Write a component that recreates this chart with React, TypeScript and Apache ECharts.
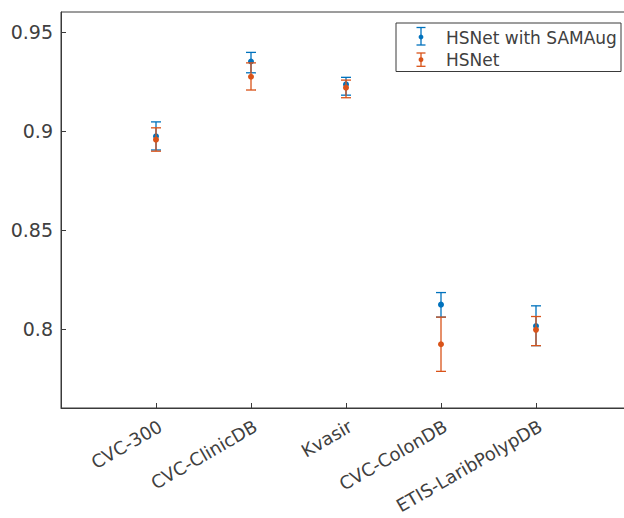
import React, { useEffect, useRef } from "react";
import * as echarts from "echarts";

const categories = ["CVC-300", "CVC-ClinicDB", "Kvasir", "CVC-ColonDB", "ETIS-LaribPolypDB"];
const samaugMean = [0.8972, 0.935, 0.9234, 0.8122, 0.8014];
const samaugLow = [0.8903, 0.9293, 0.918, 0.8059, 0.7915];
const samaugHigh = [0.9045, 0.9396, 0.927, 0.8183, 0.8116];
const hsnetMean = [0.8955, 0.9273, 0.9218, 0.7922, 0.7995];
const hsnetLow = [0.8897, 0.9206, 0.9167, 0.7785, 0.7915];
const hsnetHigh = [0.9015, 0.9343, 0.9256, 0.8059, 0.8062];
const yTicks = [0.8, 0.85, 0.9, 0.95];
const seriesNames = ["HSNet with SAMAug", "HSNet"];

const BLUE = "#0072BD";
const ORANGE = "#D95319";
const AXIS = "#3a3a3a";
const TEXT = "#404040";
const FONT = "DejaVu Sans";

function makeRender(color: string) {
  return (params: any, api: any) => {
    const x = api.value(0);
    const pm = api.coord([x, api.value(1)]);
    const pl = api.coord([x, api.value(2)]);
    const ph = api.coord([x, api.value(3)]);
    const w = 5;
    const ls = { stroke: color, lineWidth: 1.3 };
    return {
      type: "group",
      children: [
        { type: "line", shape: { x1: pm[0], y1: pl[1], x2: pm[0], y2: ph[1] }, style: ls },
        { type: "line", shape: { x1: pm[0] - w, y1: ph[1], x2: pm[0] + w, y2: ph[1] }, style: ls },
        { type: "line", shape: { x1: pm[0] - w, y1: pl[1], x2: pm[0] + w, y2: pl[1] }, style: ls },
        { type: "circle", shape: { cx: pm[0], cy: pm[1], r: 3 }, style: { fill: color } },
      ],
    };
  };
}

function legendIcon(color: string, cx: number, top: number, bottom: number, dot: number) {
  const ls = { stroke: color, lineWidth: 1.3 };
  const w = 4.5;
  return [
    { type: "line", shape: { x1: cx, y1: top, x2: cx, y2: bottom }, style: ls },
    { type: "line", shape: { x1: cx - w, y1: top, x2: cx + w, y2: top }, style: ls },
    { type: "line", shape: { x1: cx - w, y1: bottom, x2: cx + w, y2: bottom }, style: ls },
    { type: "circle", shape: { cx, cy: dot, r: 2.4 }, style: { fill: color } },
  ];
}

export default function App() {
  const ref = useRef<HTMLDivElement>(null);
  useEffect(() => {
    if (!ref.current) return;
    const chart = echarts.init(ref.current, null, { renderer: "svg" });
    const axisCats = ["", ...categories, ""];
    const mk = (mean: number[], lo: number[], hi: number[]) =>
      mean.map((m, i) => [i + 1, m, lo[i], hi[i]]);
    chart.setOption({
      animation: false,
      backgroundColor: "#ffffff",
      grid: {
        left: 61,
        top: 12,
        width: 570,
        height: 396,
        outerBoundsMode: "none",
        containLabel: false,
        show: true,
        borderColor: AXIS,
        borderWidth: 1,
        backgroundColor: "transparent",
      },
      graphic: [
        {
          type: "group",
          z: 100,
          children: [
            {
              type: "rect",
              shape: { x: 396, y: 23, width: 225, height: 48.5 },
              style: { fill: "#ffffff", stroke: AXIS, lineWidth: 1 },
            },
            ...legendIcon(BLUE, 421, 27.5, 45, 37),
            ...legendIcon(ORANGE, 421, 53, 66.3, 59.7),
            {
              type: "text",
              x: 446,
              y: 37.5,
              style: {
                text: seriesNames[0],
                fill: TEXT,
                font: `17px "${FONT}"`,
                verticalAlign: "middle",
                align: "left",
              },
            },
            {
              type: "text",
              x: 446,
              y: 59.5,
              style: {
                text: seriesNames[1],
                fill: TEXT,
                font: `17px "${FONT}"`,
                verticalAlign: "middle",
                align: "left",
              },
            },
          ],
        },
      ],
      xAxis: {
        type: "category",
        data: axisCats,
        boundaryGap: false,
        axisLine: { lineStyle: { color: AXIS, width: 1 } },
        axisTick: { inside: true, length: 5, interval: 0, lineStyle: { color: AXIS } },
        axisLabel: {
          interval: 0,
          rotate: 30,
          margin: 9,
          align: "right",
          verticalAlign: "top",
          fontFamily: FONT,
          fontSize: 18,
          color: TEXT,
        },
        splitLine: { show: false },
      },
      yAxis: {
        type: "value",
        min: 0.76,
        max: 0.96,
        axisLine: { show: true, lineStyle: { color: AXIS, width: 1 } },
        axisTick: {
          show: true,
          inside: true,
          length: 5,
          customValues: yTicks,
          lineStyle: { color: AXIS },
        },
        axisLabel: {
          customValues: yTicks,
          margin: 8,
          fontFamily: FONT,
          fontSize: 19,
          color: TEXT,
          formatter: (v: number) => String(Math.round(v * 100) / 100),
        },
        splitLine: { show: false },
      },
      series: [
        {
          name: seriesNames[0],
          type: "custom",
          itemStyle: { color: BLUE },
          renderItem: makeRender(BLUE),
          encode: { x: 0, y: 1 },
          data: mk(samaugMean, samaugLow, samaugHigh),
          z: 2,
        },
        {
          name: seriesNames[1],
          type: "custom",
          itemStyle: { color: ORANGE },
          renderItem: makeRender(ORANGE),
          encode: { x: 0, y: 1 },
          data: mk(hsnetMean, hsnetLow, hsnetHigh),
          z: 3,
        },
      ],
    });
    return () => chart.dispose();
  }, []);
  return (
    <div
      ref={ref}
      style={{ position: "absolute", left: 0, top: 0, width: 624, height: 518 }}
    />
  );
}
